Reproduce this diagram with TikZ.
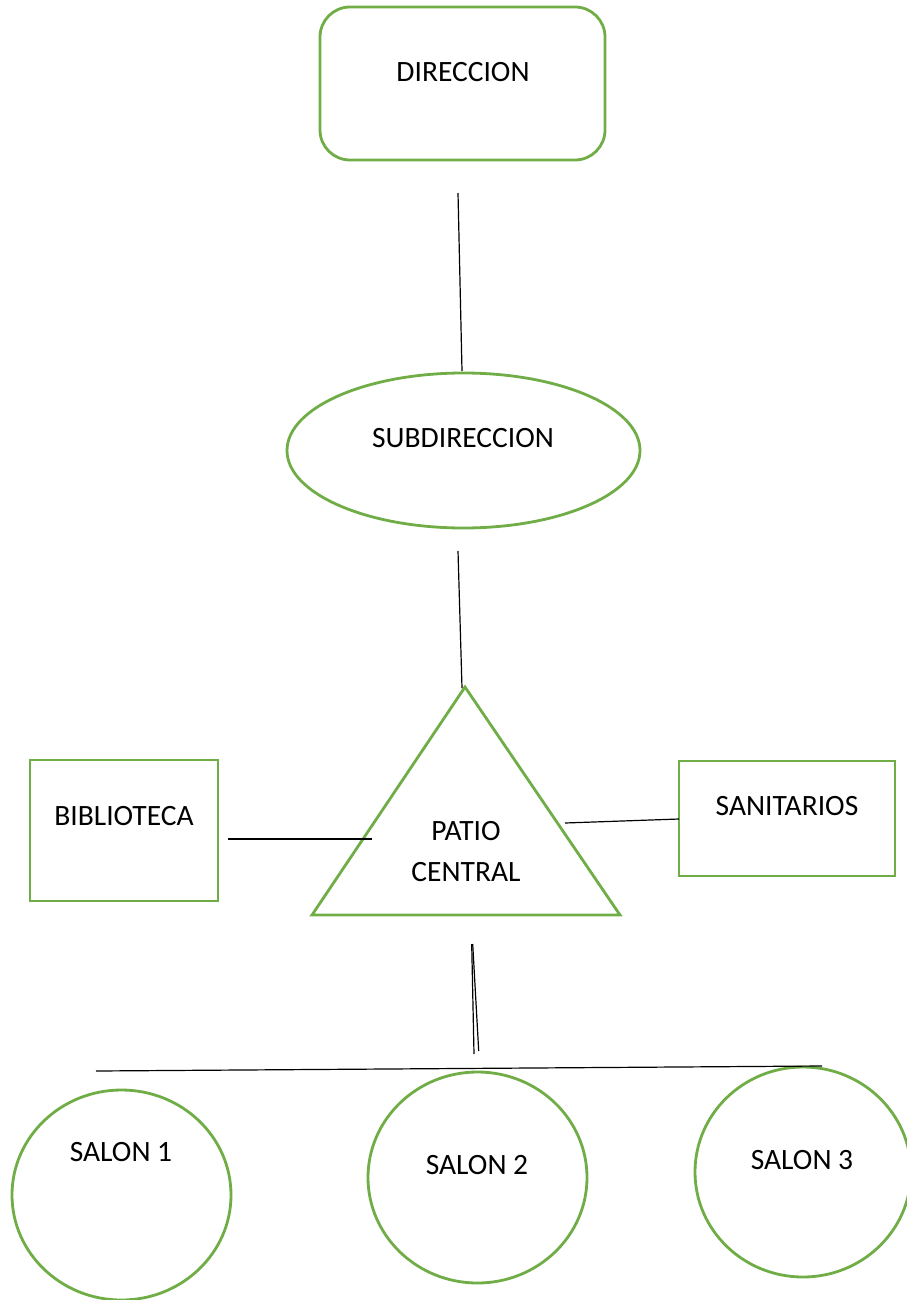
\documentclass[tikz,border=0pt]{standalone}
\usepackage{fontspec}
\setmainfont{Carlito}
\usetikzlibrary{shapes.geometric}
\definecolor{officegreen}{RGB}{112,173,71}
\tikzset{
  shapeline/.style={draw=officegreen, line width=2.8pt},
  conn/.style={draw=black, line width=1.2pt},
  lbl/.style={font=\fontsize{29.5}{41}\selectfont, inner sep=0pt, align=center},
}
\begin{document}
\begin{tikzpicture}[x=1pt,y=-1pt]
\useasboundingbox (0,0) rectangle (906,1300);
% Direccion
\node[shapeline, rounded corners=30pt, minimum width=285pt, minimum height=153pt, inner sep=0pt] (dir) at (462.5,83.5) {};
\node[lbl] (dirt) at (463,72) {DIRECCION};
% Subdireccion
\node[shapeline, ellipse, minimum width=353pt, minimum height=155pt, inner sep=0pt] (sub) at (463.5,450.5) {};
\node[lbl] (subt) at (463,438) {SUBDIRECCION};
% Patio central triangle
\coordinate (triA) at (465,687);
\coordinate (triL) at (312,915);
\coordinate (triR) at (620,915);
\draw[shapeline, line join=miter] (triA) -- (triR) -- (triL) -- cycle;
\node[lbl] (patio) at (466,852) {PATIO\\CENTRAL};
% Biblioteca
\node[shapeline, minimum width=188pt, minimum height=141pt, inner sep=0pt] (bib) at (124,830.5) {};
\node[lbl] (bibt) at (124,816) {BIBLIOTECA};
% Sanitarios
\node[shapeline, minimum width=216pt, minimum height=115pt, inner sep=0pt] (san) at (787,818.5) {};
\node[lbl] (sant) at (787,806) {SANITARIOS};
% Salones
\node[shapeline, ellipse, minimum width=219pt, minimum height=210pt, inner sep=0pt] (s1) at (121.5,1195) {};
\node[lbl] (s1t) at (121,1152) {SALON 1};
\node[shapeline, ellipse, minimum width=219pt, minimum height=211pt, inner sep=0pt] (s2) at (477.5,1177.5) {};
\node[lbl] (s2t) at (477,1165) {SALON 2};
\node[shapeline, ellipse, minimum width=216pt, minimum height=210pt, inner sep=0pt] (s3) at (803,1172) {};
\node[lbl] (s3t) at (802,1160) {SALON 3};
% connector end points
\coordinate (c1a) at (458,193);
\coordinate (c1b) at (462,371);
\coordinate (c2a) at (458,551);
\coordinate (c2b) at (462,688);
\coordinate (c3a) at (228,839);
\coordinate (c3b) at (372,839);
\coordinate (c4a) at (565,823);
\coordinate (c4b) at (679,819);
\coordinate (c5a) at (471.7,944);
\coordinate (c5b) at (474,1054);
\coordinate (c6a) at (472.7,944);
\coordinate (c6b) at (478.7,1051);
\coordinate (c7a) at (96,1071);
\coordinate (c7b) at (822,1066);
\draw[conn] (c1a) -- (c1b);
\draw[conn] (c2a) -- (c2b);
\draw[conn] (c3a) -- (c3b);
\draw[conn] (c4a) -- (c4b);
\draw[conn] (c5a) -- (c5b);
\draw[conn] (c6a) -- (c6b);
\draw[conn] (c7a) -- (c7b);
\end{tikzpicture}
\end{document}
